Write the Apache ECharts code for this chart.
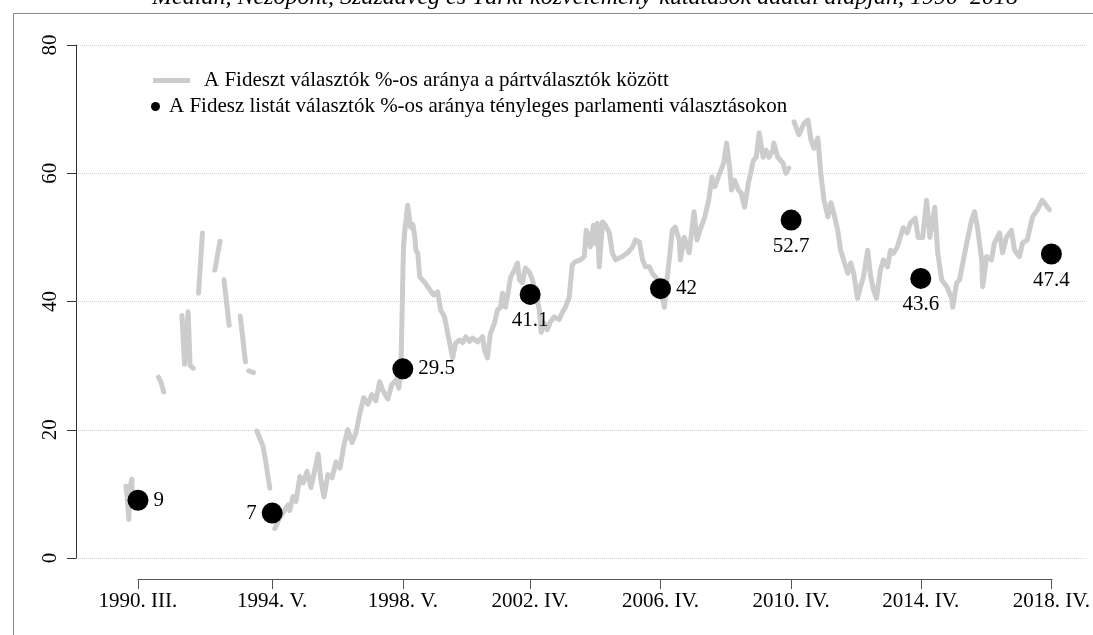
<!DOCTYPE html>
<html>
<head>
<meta charset="utf-8">
<script src="https://cdn.jsdelivr.net/npm/echarts@6/dist/echarts.min.js"></script>
<style>
  html, body { margin: 0; padding: 0; background: #fff; }
  #chart { width: 1093px; height: 635px; }
</style>
</head>
<body>
<div id="chart"></div>
<script>
// választások időpontja (tört évben), felirata és a Fidesz listás eredménye
const electionYears = [1990.23, 1994.35, 1998.36, 2002.27, 2006.27, 2010.28, 2014.26, 2018.27];
const electionLabels = ['1990. III.', '1994. V.', '1998. V.', '2002. IV.', '2006. IV.', '2010. IV.', '2014. IV.', '2018. IV.'];
const electionValues = [9, 7, 29.5, 41.1, 42, 52.7, 43.6, 47.4];

// közvélemény-kutatások: időpont (tört év) és érték, null = hiányzó adat
const pollYears = [
  1989.86, 1989.89, 1989.95, 1989.98, 1990.04, 1990.07, 1990.40,
  1990.86, 1990.94, 1991.02, 1991.30,
  1991.58, 1991.66, 1991.77, 1991.83, 1991.93, 1992.00,
  1992.09, 1992.15, 1992.21, 1992.40,
  1992.59, 1992.75, 1992.80,
  1992.87, 1993.03, 1993.20,
  1993.37, 1993.53, 1993.58,
  1993.63, 1993.78, 1993.83,
  1993.88, 1994.07, 1994.16, 1994.22, 1994.28, 1994.36,
  1994.43, 1994.59, 1994.74, 1994.84, 1994.89, 1994.99, 1995.08, 1995.20, 1995.30, 1995.42,
  1995.54, 1995.67, 1995.76, 1995.85, 1995.94, 1996.06, 1996.19, 1996.31, 1996.43, 1996.55,
  1996.67, 1996.80, 1996.92, 1997.04, 1997.16, 1997.29, 1997.41, 1997.53, 1997.65, 1997.74,
  1997.90, 1998.02, 1998.15, 1998.24, 1998.30,
  1998.38, 1998.42, 1998.51, 1998.60, 1998.67, 1998.73, 1998.76, 1998.82, 1998.88, 1999.03,
  1999.19, 1999.31, 1999.43, 1999.52, 1999.64, 1999.80, 1999.89, 1999.98, 2000.10, 2000.20,
  2000.29, 2000.41, 2000.50, 2000.66, 2000.81, 2000.87, 2000.96, 2001.05, 2001.17, 2001.27,
  2001.36, 2001.42, 2001.51, 2001.57, 2001.67, 2001.79, 2001.88, 2001.94, 2002.03, 2002.12,
  2002.24,
  2002.33, 2002.42, 2002.55, 2002.61, 2002.70, 2002.79, 2002.89, 2003.01, 2003.16, 2003.25,
  2003.35, 2003.47, 2003.56, 2003.65, 2003.81, 2003.93, 2003.99, 2004.09, 2004.12, 2004.21,
  2004.27, 2004.33, 2004.39, 2004.49, 2004.58, 2004.70, 2004.79, 2004.89, 2005.01, 2005.10,
  2005.26, 2005.41, 2005.50, 2005.62, 2005.72, 2005.81, 2005.93, 2006.02, 2006.12, 2006.24,
  2006.39, 2006.48, 2006.57, 2006.63, 2006.72, 2006.85, 2006.88, 2007.00, 2007.15, 2007.30,
  2007.39, 2007.48, 2007.63, 2007.75, 2007.85, 2007.94, 2008.09, 2008.21, 2008.30, 2008.39,
  2008.45, 2008.54, 2008.66, 2008.75, 2008.85, 2008.97, 2009.12, 2009.21, 2009.30, 2009.42,
  2009.51, 2009.60, 2009.72, 2009.75, 2009.87, 2010.03, 2010.12, 2010.21, 2010.30,
  2010.37, 2010.52, 2010.68, 2010.80, 2010.89, 2010.98, 2011.10, 2011.19, 2011.29, 2011.41,
  2011.50, 2011.59, 2011.71, 2011.80, 2011.89, 2012.02, 2012.11, 2012.20, 2012.32, 2012.41,
  2012.50, 2012.63, 2012.72, 2012.81, 2012.90, 2013.02, 2013.11, 2013.24, 2013.33, 2013.42,
  2013.54, 2013.63, 2013.72, 2013.84, 2013.94, 2014.09, 2014.18,
  2014.32, 2014.44, 2014.54, 2014.69, 2014.78, 2014.90, 2015.06, 2015.21, 2015.24, 2015.36,
  2015.45, 2015.67, 2015.82, 2015.91, 2016.00, 2016.13, 2016.16, 2016.28, 2016.43, 2016.52,
  2016.68, 2016.77, 2016.89, 2017.04, 2017.14, 2017.29, 2017.38, 2017.53, 2017.69, 2017.84,
  2017.99, 2018.21
];
const pollValues = [
  11.2, 10.0, 6.0, 10.8, 12.3, 8.5, null,
  28.2, 27.4, 25.9, null,
  37.8, 30.2, 38.4, 30.0, 29.6, null,
  41.3, 46.0, 50.7, null,
  44.9, 49.4, null,
  43.4, 36.3, null,
  37.7, 30.6, null,
  29.2, 28.9, null,
  19.8, 17.4, 14.8, 12.7, 10.9, null,
  4.6, 6.4, 7.5, 8.3, 7.4, 9.6, 8.8, 12.7, 11.7, 13.5,
  11.0, 14.0, 16.2, 12.0, 9.5, 13.0, 12.5, 15.0, 14.0, 17.5,
  20.0, 18.0, 19.5, 22.5, 25.0, 24.0, 25.5, 24.5, 27.5, 26.2,
  24.8, 27.0, 27.8, 26.5, 29.0,
  48.5, 51.0, 55.0, 51.6, 52.0, 50.0, 48.0, 47.5, 43.8, 43.0,
  41.8, 41.0, 41.5, 38.7, 37.6, 33.5, 31.2, 33.5, 34.0, 33.6,
  34.5, 33.8, 34.3, 33.7, 34.5, 32.4, 31.2, 35.0, 36.6, 38.7,
  39.1, 41.3, 39.1, 40.7, 43.8, 44.9, 46.0, 43.4, 42.9, 45.2,
  44.6,
  43.5, 41.8, 38.7, 35.2, 36.6, 35.6, 36.8, 37.6, 37.2, 38.2,
  39.1, 40.7, 45.7, 46.2, 46.5, 47.0, 51.1, 50.0, 48.5, 51.9,
  49.0, 52.2, 45.4, 52.4, 51.9, 50.7, 47.6, 46.5, 46.8, 47.0,
  47.6, 48.5, 49.6, 49.3, 46.5, 45.4, 45.4, 44.4, 43.8, 42.9,
  39.1, 43.8, 48.0, 51.1, 51.6, 49.5, 46.5, 50.0, 47.6, 54.0,
  49.6, 51.1, 53.2, 55.8, 59.4, 57.9, 60.0, 61.6, 64.7, 61.0,
  57.4, 58.9, 57.4, 56.9, 54.7, 58.5, 62.0, 62.5, 66.3, 62.5,
  63.6, 62.5, 63.6, 64.7, 62.5, 61.6, 60.0, 60.8, null,
  68.0, 66.0, 67.8, 68.3, 65.2, 63.9, 65.5, 60.0, 55.8, 53.2,
  55.4, 53.8, 51.1, 48.0, 46.5, 44.4, 46.0, 44.4, 40.5, 42.3,
  43.8, 48.0, 44.0, 41.8, 40.5, 44.9, 46.5, 45.4, 48.0, 47.5,
  48.5, 50.0, 51.5, 50.7, 52.2, 53.0, 50.0,
  50.0, 55.8, 50.0, 54.7, 47.6, 43.4, 42.3, 40.5, 39.1, 42.9,
  43.4, 49.1, 52.7, 54.0, 51.6, 46.5, 42.3, 47.0, 46.5, 49.1,
  50.7, 47.6, 50.0, 51.1, 48.0, 47.0, 49.1, 49.6, 53.2, 54.3,
  55.8, 54.3
];

const lineName = 'A Fideszt választók %-os aránya a pártválasztók között';
const dotName = 'A Fidesz listát választók %-os aránya tényleges parlamenti választásokon';
const titleText = 'Medián, Nézőpont, Századvég és Tárki közvélemény-kutatások adatai alapján, 1990–2018';

const serif = 'Liberation Serif';
const fs = 21;

// a tengely pixelhelyei: első és utolsó választás, a rajzterület széle
const firstPx = 138, lastPx = 1052, plotLeft = 76, plotRight = 1087;
const first = electionYears[0], last = electionYears[electionYears.length - 1];
const yearsPerPx = (last - first) / (lastPx - firstPx);
const xMin = first - (firstPx - plotLeft) * yearsPerPx;
const xMax = last + (plotRight - lastPx) * yearsPerPx;

function labelFor(v) {
  let best = 0;
  electionYears.forEach((e, i) => {
    if (Math.abs(e - v) < Math.abs(electionYears[best] - v)) best = i;
  });
  return electionLabels[best];
}

// a pontfeliratok helye
const labelSide = { '1990. III.': 'right', '1994. V.': 'left', '1998. V.': 'right', '2006. IV.': 'right' };

const chart = echarts.init(document.getElementById('chart'), null, { renderer: 'canvas' });

const option = {
  animation: false,
  textStyle: { fontFamily: serif },
  title: {
    text: titleText,
    left: 580,
    textAlign: 'center',
    top: -19,
    textStyle: { fontFamily: serif, fontStyle: 'italic', fontWeight: 'normal', fontSize: 24, color: '#000' }
  },
  graphic: [
    { type: 'line', shape: { x1: 13.5, y1: 13, x2: 13.5, y2: 635 }, style: { stroke: '#8a8a8a', lineWidth: 1 } },
    { type: 'line', shape: { x1: 13, y1: 13.5, x2: 1093, y2: 13.5 }, style: { stroke: '#8a8a8a', lineWidth: 1 } }
  ],
  legend: [
    {
      data: [{ name: lineName, icon: 'rect', itemStyle: { color: '#cccccc' } }],
      left: 148, top: 65,
      itemWidth: 37, itemHeight: 5,
      textStyle: { fontFamily: serif, fontSize: fs, color: '#000', padding: [0, 0, 0, 9] },
      selectedMode: false
    },
    {
      data: [dotName],
      left: 146, top: 91,
      icon: 'circle',
      itemWidth: 9, itemHeight: 9,
      textStyle: { fontFamily: serif, fontSize: fs, color: '#000', padding: [0, 0, 0, 4] },
      selectedMode: false
    }
  ],
  grid: [
    { left: plotLeft, right: 1093 - plotRight, top: 45, bottom: 77 },
    { left: firstPx, right: 1093 - lastPx, top: 45, bottom: 77 }
  ],
  xAxis: [
    {
      type: 'value', gridIndex: 0, min: xMin, max: xMax, offset: 21,
      axisLine: { show: false, onZero: false },
      axisTick: { show: true, length: 10, customValues: electionYears, lineStyle: { color: '#555' } },
      axisLabel: {
        customValues: electionYears, margin: 12,
        fontFamily: serif, fontSize: fs, color: '#000',
        formatter: v => labelFor(v)
      },
      splitLine: { show: false }
    },
    {
      type: 'value', gridIndex: 1, min: 0, max: 1, offset: 21,
      axisLine: { show: true, onZero: false, lineStyle: { color: '#555', width: 1 } },
      axisTick: { show: false }, axisLabel: { show: false }, splitLine: { show: false }
    }
  ],
  yAxis: [
    {
      type: 'value', gridIndex: 0, min: 0, max: 80, interval: 20,
      axisLine: { show: true, lineStyle: { color: '#333', width: 1 } },
      axisTick: { show: true, length: 9, lineStyle: { color: '#333' } },
      axisLabel: { rotate: 90, margin: 15, fontFamily: serif, fontSize: fs, color: '#000' },
      splitLine: { show: true, lineStyle: { color: '#d0d0d0', type: 'dotted', width: 1 } }
    },
    { type: 'value', gridIndex: 1, show: false, min: 0, max: 80 }
  ],
  series: [
    {
      name: lineName,
      type: 'line',
      xAxisIndex: 0, yAxisIndex: 0,
      data: pollYears.map((x, i) => [x, pollValues[i] === null ? '-' : pollValues[i]]),
      showSymbol: false,
      symbol: 'none',
      connectNulls: false,
      color: '#cccccc',
      lineStyle: { color: '#cccccc', width: 5, cap: 'round', join: 'round' },
      emphasis: { disabled: true },
      z: 2
    },
    {
      name: dotName,
      type: 'scatter',
      xAxisIndex: 0, yAxisIndex: 0,
      symbol: 'circle',
      symbolSize: 21,
      color: '#000',
      itemStyle: { color: '#000', opacity: 1 },
      data: electionYears.map((x, i) => ({
        value: [x, electionValues[i]],
        label: { position: labelSide[electionLabels[i]] || 'bottom' }
      })),
      label: {
        show: true, distance: 5,
        fontFamily: serif, fontSize: fs, color: '#000',
        formatter: p => String(p.value[1])
      },
      emphasis: { disabled: true },
      z: 5
    }
  ]
};

chart.setOption(option);
</script>
</body>
</html>
